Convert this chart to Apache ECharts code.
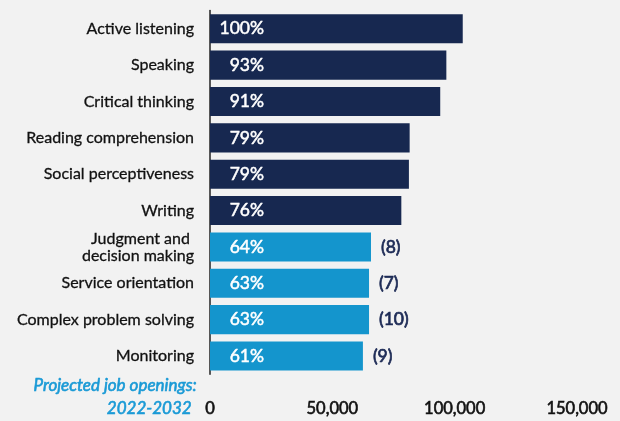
<!DOCTYPE html>
<html>
<head>
<meta charset="utf-8">
<script src="https://cdn.jsdelivr.net/npm/echarts@6/dist/echarts.min.js"></script>
<style>
html,body{margin:0;padding:0;background:#f2f2f2;}
#c{width:620px;height:421px;}
</style>
</head>
<body>
<div id="c"></div>
<script>
var categories = ["Active listening","Speaking","Critical thinking","Reading comprehension","Social perceptiveness","Writing","Judgment and \ndecision making","Service orientation","Complex problem solving","Monitoring"];
var openings = [103300, 96600, 94100, 81600, 81300, 78200, 65800, 65000, 65000, 62500];
var shares = [100, 93, 91, 79, 79, 76, 64, 63, 63, 61];
var ranks = [null, null, null, null, null, null, 8, 7, 10, 9];
var xTicks = [0, 50000, 100000, 150000];

var DARK = '#172850', LIGHT = '#1495cd';
var FONT = 'Lato';

var mainData = openings.map(function(v, i){
  return {value: v, itemStyle: {color: ranks[i] == null ? DARK : LIGHT}};
});
var rankData = openings.map(function(v, i){
  return ranks[i] == null ? null : {value: v};
});

var chart = echarts.init(document.getElementById('c'));
chart.setOption({
  backgroundColor: '#f2f2f2',
  animation: false,
  grid: {left: 210, right: 43, top: 10.6, bottom: 46.8, containLabel: false},
  xAxis: {
    type: 'value', min: 0, max: 150000, interval: 50000,
    axisLine: {show: false}, axisTick: {show: false}, splitLine: {show: false},
    axisLabel: {
      color: '#111', fontFamily: FONT, fontSize: 16.5, fontWeight: 'normal', margin: 26,
      textBorderColor: '#111', textBorderWidth: 0.6,
      formatter: function(v){ return xTicks.indexOf(v) >= 0 ? v.toLocaleString('en-US') : ''; }
    }
  },
  yAxis: {
    type: 'category', data: categories, inverse: true,
    axisLine: {show: true, lineStyle: {color: '#222', width: 1.5}},
    axisTick: {show: false},
    axisLabel: {color: '#111', fontFamily: FONT, fontSize: 16, margin: 16, lineHeight: 17, align: 'right',
      textBorderColor: '#111', textBorderWidth: 0.3}
  },
  series: [
    {
      type: 'bar', data: mainData, barCategoryGap: '20%', barGap: '-100%',
      label: {
        show: true, position: [54, '50%'], align: 'right', verticalAlign: 'middle',
        color: '#fff', fontFamily: FONT, fontSize: 17.5, fontWeight: 'normal',
        textBorderColor: '#fff', textBorderWidth: 0.5,
        formatter: function(p){ return shares[p.dataIndex] + '%'; }
      }
    },
    {
      type: 'bar', data: rankData, barCategoryGap: '20%', barGap: '-100%',
      itemStyle: {color: 'rgba(0,0,0,0)'},
      label: {
        show: true, position: 'right', distance: 10,
        color: '#1c2a55', fontFamily: FONT, fontSize: 17.5, fontWeight: 'normal',
        textBorderColor: '#1c2a55', textBorderWidth: 0.7,
        formatter: function(p){ return '(' + ranks[p.dataIndex] + ')'; }
      }
    }
  ],
  graphic: [
    {type: 'text', right: 423, top: 377, style: {text: 'Projected job openings:', fill: '#1a9ad6', font: 'italic 17px Lato', stroke: '#1a9ad6', lineWidth: 0.6, textAlign: 'right'}},
    {type: 'text', right: 428, top: 400, style: {text: '2022-2032', fill: '#1a9ad6', font: 'italic 17px Lato', stroke: '#1a9ad6', lineWidth: 0.6, textAlign: 'right'}}
  ]
});
</script>
</body>
</html>
